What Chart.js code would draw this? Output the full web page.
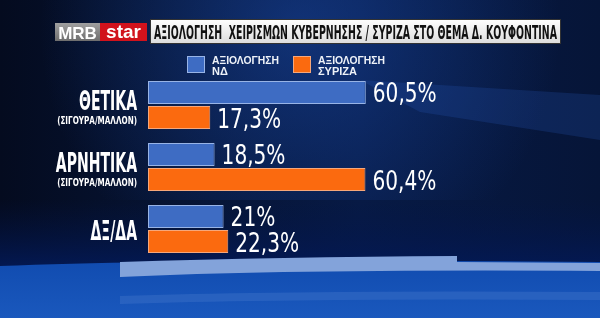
<!DOCTYPE html>
<html>
<head>
<meta charset="utf-8">
<script src="https://cdn.jsdelivr.net/npm/chart.js@4/dist/chart.umd.min.js"></script>
<style>
html,body{margin:0;padding:0;background:#061330;}
canvas{display:block;}
</style>
</head>
<body>
<canvas id="c" width="600" height="318"></canvas>
<script>
// ---- data ----
const titleText = "ΑΞΙΟΛΟΓΗΣΗ  ΧΕΙΡΙΣΜΩΝ ΚΥΒΕΡΝΗΣΗΣ / ΣΥΡΙΖΑ ΣΤΟ ΘΕΜΑ Δ. ΚΟΥΦΟΝΤΙΝΑ";
const logoParts = ["MRB", "star"];
const categories = ["ΘΕΤΙΚΑ", "ΑΡΝΗΤΙΚΑ", "ΔΞ/ΔΑ"];
const subLabels = ["(ΣΙΓΟΥΡΑ/ΜΑΛΛΟΝ)", "(ΣΙΓΟΥΡΑ/ΜΑΛΛΟΝ)", ""];
const seriesNames = [["ΑΞΙΟΛΟΓΗΣΗ", "ΝΔ"], ["ΑΞΙΟΛΟΓΗΣΗ", "ΣΥΡΙΖΑ"]];
const ndValues = [60.5, 18.5, 21];
const syrizaValues = [17.3, 60.4, 22.3];

const NARROW = "'DejaVu Sans Condensed','Liberation Sans','Roboto',sans-serif";
const SANS = "'Liberation Sans','Roboto','DejaVu Sans',sans-serif";

const backgroundPlugin = {
  id: 'bg',
  beforeDraw(chart) {
    const ctx = chart.ctx, W = chart.width, H = chart.height;
    ctx.save();
    const base = ctx.createLinearGradient(0, 0, W, 0);
    base.addColorStop(0, '#040b1f');
    base.addColorStop(0.3, '#061434');
    base.addColorStop(0.6, '#071a45');
    base.addColorStop(1, '#061538');
    ctx.fillStyle = base;
    ctx.fillRect(0, 0, W, H);
    const rg = ctx.createRadialGradient(300, 30, 10, 300, 30, 260);
    rg.addColorStop(0, 'rgba(25,70,160,0.55)');
    rg.addColorStop(1, 'rgba(25,70,160,0)');
    ctx.fillStyle = rg;
    ctx.fillRect(0, 0, W, 200);
    ctx.fillStyle = 'rgba(40,90,190,0.22)';
    ctx.beginPath();
    ctx.moveTo(360, 80); ctx.lineTo(600, 95); ctx.lineTo(600, 140); ctx.lineTo(420, 112);
    ctx.closePath(); ctx.fill();
    const dg = ctx.createLinearGradient(0, 200, 0, 265);
    dg.addColorStop(0, 'rgba(3,20,70,0)');
    dg.addColorStop(1, 'rgba(3,25,85,0.9)');
    ctx.fillStyle = dg;
    ctx.fillRect(0, 200, W, 70);
    const bg = ctx.createLinearGradient(0, 262, 0, H);
    bg.addColorStop(0, '#114cb0');
    bg.addColorStop(1, '#1a58bd');
    ctx.fillStyle = bg;
    ctx.beginPath();
    ctx.moveTo(0, 266);
    ctx.quadraticCurveTo(200, 258, 600, 262);
    ctx.lineTo(600, H); ctx.lineTo(0, H); ctx.closePath(); ctx.fill();
    ctx.fillStyle = '#83a3da';
    ctx.beginPath();
    ctx.moveTo(120, 262);
    ctx.quadraticCurveTo(280, 257, 457, 256);
    ctx.lineTo(457, 262);
    ctx.lineTo(600, 263);
    ctx.lineTo(600, 271);
    ctx.quadraticCurveTo(300, 269, 120, 277);
    ctx.closePath(); ctx.fill();
    ctx.fillStyle = 'rgba(120,160,230,0.18)';
    ctx.beginPath();
    ctx.moveTo(120, 296); ctx.quadraticCurveTo(300, 290, 600, 292);
    ctx.lineTo(600, 300); ctx.quadraticCurveTo(300, 298, 120, 304);
    ctx.closePath(); ctx.fill();
    ctx.restore();
  }
};

function drawScaled(ctx, text, x, y, sx, align) {
  ctx.save();
  ctx.translate(x, y);
  ctx.scale(sx, 1);
  ctx.textAlign = align;
  ctx.fillText(text, 0, 0);
  ctx.restore();
}

const decorPlugin = {
  id: 'decor',
  afterDraw(chart) {
    const ctx = chart.ctx;
    ctx.save();
    // logo
    const lg = ctx.createLinearGradient(0, 23, 0, 41);
    lg.addColorStop(0, '#a0a0a0'); lg.addColorStop(1, '#6e6e6e');
    ctx.fillStyle = lg; ctx.fillRect(55, 23, 45, 18);
    ctx.fillStyle = '#d1121c'; ctx.fillRect(100, 23, 47, 18);
    ctx.fillStyle = '#ffffff';
    ctx.textBaseline = 'alphabetic';
    ctx.textAlign = 'center';
    ctx.font = "bold 17px " + SANS;
    ctx.fillText(logoParts[0], 77.5, 39, 40);
    ctx.font = "bold 19px " + SANS;
    ctx.fillText(logoParts[1], 123.5, 37.5, 40);
    // title box
    const tg = ctx.createLinearGradient(0, 19, 0, 44);
    tg.addColorStop(0, '#ffffff'); tg.addColorStop(1, '#dcdcdc');
    ctx.fillStyle = tg; ctx.fillRect(150, 19, 411, 25);
    ctx.strokeStyle = '#333'; ctx.lineWidth = 1; ctx.strokeRect(150.5, 19.5, 410, 24);
    ctx.fillStyle = '#111';
    ctx.textAlign = 'left';
    ctx.font = "bold 19px " + NARROW;
    ctx.fillText(titleText, 154, 39, 403);

    // legend
    const ds = chart.data.datasets;
    const lx = [187, 293];
    ds.forEach((d, i) => {
      ctx.fillStyle = d.backgroundColor;
      ctx.fillRect(lx[i], 56, 18, 17);
      ctx.strokeStyle = d.borderColor; ctx.lineWidth = 1;
      ctx.strokeRect(lx[i] + 0.5, 56.5, 17, 16);
      ctx.fillStyle = '#eef2f8';
      ctx.font = "bold 11px " + SANS;
      ctx.textAlign = 'left';
      seriesNames[i].forEach((t, j) => ctx.fillText(t, lx[i] + 25, 63.5 + j * 11, 67));
    });

    // category labels
    const ys = chart.scales.y;
    categories.forEach((c, i) => {
      const cy = ys.getPixelForValue(i);
      const hasSub = subLabels[i] !== "";
      ctx.fillStyle = '#ffffff';
      ctx.font = "bold 26px " + NARROW;
      drawScaled(ctx, c, 137, hasSub ? cy + 5 : cy + 11, 0.6, 'right');
      if (hasSub) {
        ctx.font = "bold 11px " + NARROW;
        drawScaled(ctx, subLabels[i], 137, cy + 19, 0.73, 'right');
      }
    });

    // value labels
    ctx.fillStyle = '#ffffff';
    ctx.font = "26px " + NARROW;
    ds.forEach((d, i) => {
      chart.getDatasetMeta(i).data.forEach((bar, j) => {
        const txt = String(d.data[j]).replace('.', ',') + '%';
        drawScaled(ctx, txt, bar.x + 7, bar.y + 10, 0.86, 'left');
      });
    });
    ctx.restore();
  }
};

new Chart(document.getElementById('c'), {
  type: 'bar',
  data: {
    labels: categories,
    datasets: [
      { label: seriesNames[0].join(' '), data: ndValues, backgroundColor: '#3e6cc3', borderColor: '#98b4e6', borderWidth: 1, borderSkipped: false },
      { label: seriesNames[1].join(' '), data: syrizaValues, backgroundColor: '#fb6a0f', borderColor: '#f6a77a', borderWidth: 1, borderSkipped: false }
    ]
  },
  options: {
    indexAxis: 'y',
    responsive: false,
    animation: false,
    devicePixelRatio: 1,
    layout: { padding: { left: 148, right: 92, top: 74, bottom: 58 } },
    categoryPercentage: 0.81,
    barPercentage: 0.92,
    scales: {
      x: { display: false, min: 0, max: 100 },
      y: { display: false }
    },
    plugins: { legend: { display: false }, tooltip: { enabled: false }, title: { display: false } }
  },
  plugins: [backgroundPlugin, decorPlugin]
});
</script>
</body>
</html>
